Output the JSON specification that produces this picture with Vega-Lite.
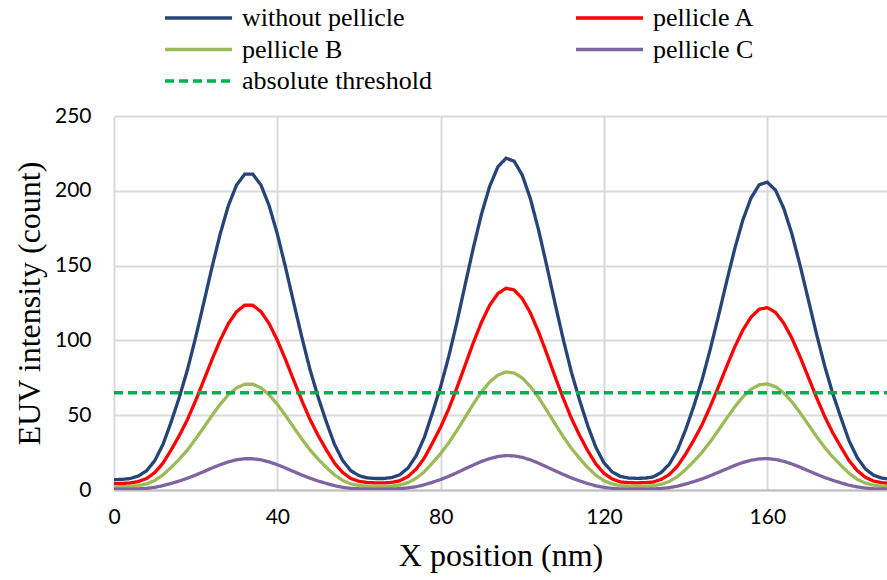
{
  "$schema": "https://vega.github.io/schema/vega-lite/v6.json",
  "width": 773,
  "height": 374,
  "autosize": "none",
  "padding": {"left": 114, "top": 116, "right": 0, "bottom": 90},
  "background": "white",
  "config": {
    "view": {"stroke": null}
  },
  "layer": [
    {
      "data": {
        "values": [
          {"x": 0, "without pellicle": 6.9, "pellicle A": 4.2, "pellicle B": 2.1, "pellicle C": 0.5},
          {"x": 2, "without pellicle": 7.1, "pellicle A": 4.4, "pellicle B": 2.2, "pellicle C": 0.6},
          {"x": 4, "without pellicle": 7.7, "pellicle A": 4.7, "pellicle B": 2.4, "pellicle C": 0.6},
          {"x": 6, "without pellicle": 9.4, "pellicle A": 5.7, "pellicle B": 3.0, "pellicle C": 0.8},
          {"x": 8, "without pellicle": 12.9, "pellicle A": 7.7, "pellicle B": 4.1, "pellicle C": 1.1},
          {"x": 10, "without pellicle": 19.7, "pellicle A": 11.7, "pellicle B": 6.4, "pellicle C": 1.8},
          {"x": 12, "without pellicle": 30.5, "pellicle A": 18.0, "pellicle B": 10.1, "pellicle C": 2.9},
          {"x": 14, "without pellicle": 45.5, "pellicle A": 26.8, "pellicle B": 15.1, "pellicle C": 4.4},
          {"x": 16, "without pellicle": 62.0, "pellicle A": 36.4, "pellicle B": 20.6, "pellicle C": 6.0},
          {"x": 18, "without pellicle": 80.5, "pellicle A": 47.2, "pellicle B": 26.8, "pellicle C": 7.9},
          {"x": 20, "without pellicle": 102.1, "pellicle A": 59.8, "pellicle B": 34.1, "pellicle C": 10.0},
          {"x": 22, "without pellicle": 125.3, "pellicle A": 73.4, "pellicle B": 41.9, "pellicle C": 12.3},
          {"x": 24, "without pellicle": 148.9, "pellicle A": 87.2, "pellicle B": 49.8, "pellicle C": 14.7},
          {"x": 26, "without pellicle": 171.1, "pellicle A": 100.1, "pellicle B": 57.3, "pellicle C": 16.9},
          {"x": 28, "without pellicle": 190.0, "pellicle A": 111.2, "pellicle B": 63.6, "pellicle C": 18.8},
          {"x": 30, "without pellicle": 203.8, "pellicle A": 119.2, "pellicle B": 68.2, "pellicle C": 20.2},
          {"x": 32, "without pellicle": 211.1, "pellicle A": 123.5, "pellicle B": 70.7, "pellicle C": 20.9},
          {"x": 34, "without pellicle": 211.1, "pellicle A": 123.5, "pellicle B": 70.7, "pellicle C": 20.9},
          {"x": 36, "without pellicle": 203.8, "pellicle A": 119.2, "pellicle B": 68.2, "pellicle C": 20.2},
          {"x": 38, "without pellicle": 190.0, "pellicle A": 111.2, "pellicle B": 63.6, "pellicle C": 18.8},
          {"x": 40, "without pellicle": 171.1, "pellicle A": 100.1, "pellicle B": 57.3, "pellicle C": 16.9},
          {"x": 42, "without pellicle": 148.9, "pellicle A": 87.2, "pellicle B": 49.8, "pellicle C": 14.7},
          {"x": 44, "without pellicle": 125.3, "pellicle A": 73.4, "pellicle B": 41.9, "pellicle C": 12.3},
          {"x": 46, "without pellicle": 102.1, "pellicle A": 59.8, "pellicle B": 34.1, "pellicle C": 10.0},
          {"x": 48, "without pellicle": 80.5, "pellicle A": 47.2, "pellicle B": 26.8, "pellicle C": 7.9},
          {"x": 50, "without pellicle": 62.0, "pellicle A": 36.4, "pellicle B": 20.6, "pellicle C": 6.0},
          {"x": 52, "without pellicle": 45.5, "pellicle A": 26.8, "pellicle B": 15.1, "pellicle C": 4.4},
          {"x": 54, "without pellicle": 30.5, "pellicle A": 18.0, "pellicle B": 10.1, "pellicle C": 2.9},
          {"x": 56, "without pellicle": 19.7, "pellicle A": 11.7, "pellicle B": 6.4, "pellicle C": 1.8},
          {"x": 58, "without pellicle": 12.9, "pellicle A": 7.7, "pellicle B": 4.1, "pellicle C": 1.1},
          {"x": 60, "without pellicle": 9.6, "pellicle A": 5.8, "pellicle B": 3.0, "pellicle C": 0.8},
          {"x": 62, "without pellicle": 8.1, "pellicle A": 5.0, "pellicle B": 2.6, "pellicle C": 0.7},
          {"x": 64, "without pellicle": 7.7, "pellicle A": 4.8, "pellicle B": 2.4, "pellicle C": 0.6},
          {"x": 66, "without pellicle": 7.7, "pellicle A": 4.7, "pellicle B": 2.4, "pellicle C": 0.6},
          {"x": 68, "without pellicle": 8.3, "pellicle A": 5.1, "pellicle B": 2.6, "pellicle C": 0.7},
          {"x": 70, "without pellicle": 10.2, "pellicle A": 6.2, "pellicle B": 3.3, "pellicle C": 0.9},
          {"x": 72, "without pellicle": 14.7, "pellicle A": 9.0, "pellicle B": 4.9, "pellicle C": 1.4},
          {"x": 74, "without pellicle": 22.9, "pellicle A": 14.0, "pellicle B": 7.9, "pellicle C": 2.2},
          {"x": 76, "without pellicle": 35.2, "pellicle A": 21.4, "pellicle B": 12.2, "pellicle C": 3.5},
          {"x": 78, "without pellicle": 51.8, "pellicle A": 31.5, "pellicle B": 18.2, "pellicle C": 5.2},
          {"x": 80, "without pellicle": 69.2, "pellicle A": 42.1, "pellicle B": 24.4, "pellicle C": 7.0},
          {"x": 82, "without pellicle": 89.5, "pellicle A": 54.4, "pellicle B": 31.6, "pellicle C": 9.2},
          {"x": 84, "without pellicle": 112.5, "pellicle A": 68.5, "pellicle B": 39.9, "pellicle C": 11.6},
          {"x": 86, "without pellicle": 137.3, "pellicle A": 83.5, "pellicle B": 48.7, "pellicle C": 14.2},
          {"x": 88, "without pellicle": 161.9, "pellicle A": 98.5, "pellicle B": 57.5, "pellicle C": 16.7},
          {"x": 90, "without pellicle": 184.5, "pellicle A": 112.2, "pellicle B": 65.6, "pellicle C": 19.1},
          {"x": 92, "without pellicle": 203.0, "pellicle A": 123.5, "pellicle B": 72.2, "pellicle C": 21.0},
          {"x": 94, "without pellicle": 216.0, "pellicle A": 131.3, "pellicle B": 76.8, "pellicle C": 22.4},
          {"x": 96, "without pellicle": 221.8, "pellicle A": 134.9, "pellicle B": 78.9, "pellicle C": 23.0},
          {"x": 98, "without pellicle": 219.8, "pellicle A": 133.7, "pellicle B": 78.2, "pellicle C": 22.8},
          {"x": 100, "without pellicle": 210.4, "pellicle A": 127.9, "pellicle B": 74.8, "pellicle C": 21.8},
          {"x": 102, "without pellicle": 194.4, "pellicle A": 118.2, "pellicle B": 69.1, "pellicle C": 20.1},
          {"x": 104, "without pellicle": 173.5, "pellicle A": 105.5, "pellicle B": 61.7, "pellicle C": 17.9},
          {"x": 106, "without pellicle": 149.6, "pellicle A": 91.0, "pellicle B": 53.1, "pellicle C": 15.4},
          {"x": 108, "without pellicle": 124.8, "pellicle A": 75.9, "pellicle B": 44.3, "pellicle C": 12.9},
          {"x": 110, "without pellicle": 100.9, "pellicle A": 61.4, "pellicle B": 35.7, "pellicle C": 10.4},
          {"x": 112, "without pellicle": 78.9, "pellicle A": 48.0, "pellicle B": 27.9, "pellicle C": 8.1},
          {"x": 114, "without pellicle": 60.2, "pellicle A": 36.6, "pellicle B": 21.2, "pellicle C": 6.1},
          {"x": 116, "without pellicle": 43.1, "pellicle A": 26.3, "pellicle B": 15.1, "pellicle C": 4.3},
          {"x": 118, "without pellicle": 28.5, "pellicle A": 17.4, "pellicle B": 9.9, "pellicle C": 2.8},
          {"x": 120, "without pellicle": 18.1, "pellicle A": 11.1, "pellicle B": 6.2, "pellicle C": 1.7},
          {"x": 122, "without pellicle": 12.1, "pellicle A": 7.4, "pellicle B": 4.0, "pellicle C": 1.1},
          {"x": 124, "without pellicle": 9.1, "pellicle A": 5.4, "pellicle B": 2.9, "pellicle C": 0.7},
          {"x": 126, "without pellicle": 8.0, "pellicle A": 4.9, "pellicle B": 2.5, "pellicle C": 0.6},
          {"x": 128, "without pellicle": 7.8, "pellicle A": 4.8, "pellicle B": 2.4, "pellicle C": 0.6},
          {"x": 130, "without pellicle": 7.9, "pellicle A": 4.9, "pellicle B": 2.5, "pellicle C": 0.6},
          {"x": 132, "without pellicle": 8.7, "pellicle A": 5.3, "pellicle B": 2.8, "pellicle C": 0.7},
          {"x": 134, "without pellicle": 11.7, "pellicle A": 7.1, "pellicle B": 3.8, "pellicle C": 1.0},
          {"x": 136, "without pellicle": 17.3, "pellicle A": 10.4, "pellicle B": 5.7, "pellicle C": 1.6},
          {"x": 138, "without pellicle": 26.8, "pellicle A": 16.0, "pellicle B": 9.0, "pellicle C": 2.6},
          {"x": 140, "without pellicle": 40.4, "pellicle A": 24.1, "pellicle B": 13.7, "pellicle C": 4.0},
          {"x": 142, "without pellicle": 56.2, "pellicle A": 33.4, "pellicle B": 19.2, "pellicle C": 5.6},
          {"x": 144, "without pellicle": 73.5, "pellicle A": 43.6, "pellicle B": 25.2, "pellicle C": 7.4},
          {"x": 146, "without pellicle": 93.9, "pellicle A": 55.7, "pellicle B": 32.2, "pellicle C": 9.5},
          {"x": 148, "without pellicle": 116.0, "pellicle A": 68.8, "pellicle B": 39.9, "pellicle C": 11.8},
          {"x": 150, "without pellicle": 139.0, "pellicle A": 82.4, "pellicle B": 47.8, "pellicle C": 14.1},
          {"x": 152, "without pellicle": 161.1, "pellicle A": 95.5, "pellicle B": 55.5, "pellicle C": 16.4},
          {"x": 154, "without pellicle": 180.5, "pellicle A": 106.9, "pellicle B": 62.2, "pellicle C": 18.4},
          {"x": 156, "without pellicle": 195.2, "pellicle A": 115.6, "pellicle B": 67.3, "pellicle C": 19.9},
          {"x": 158, "without pellicle": 204.0, "pellicle A": 120.8, "pellicle B": 70.3, "pellicle C": 20.8},
          {"x": 160, "without pellicle": 205.8, "pellicle A": 121.9, "pellicle B": 70.9, "pellicle C": 21.0},
          {"x": 162, "without pellicle": 200.4, "pellicle A": 118.7, "pellicle B": 69.1, "pellicle C": 20.4},
          {"x": 164, "without pellicle": 188.4, "pellicle A": 111.6, "pellicle B": 64.9, "pellicle C": 19.2},
          {"x": 166, "without pellicle": 171.3, "pellicle A": 101.5, "pellicle B": 59.0, "pellicle C": 17.4},
          {"x": 168, "without pellicle": 150.3, "pellicle A": 89.1, "pellicle B": 51.7, "pellicle C": 15.3},
          {"x": 170, "without pellicle": 127.6, "pellicle A": 75.6, "pellicle B": 43.9, "pellicle C": 12.9},
          {"x": 172, "without pellicle": 104.7, "pellicle A": 62.1, "pellicle B": 35.9, "pellicle C": 10.6},
          {"x": 174, "without pellicle": 83.3, "pellicle A": 49.4, "pellicle B": 28.6, "pellicle C": 8.4},
          {"x": 176, "without pellicle": 64.6, "pellicle A": 38.3, "pellicle B": 22.1, "pellicle C": 6.5},
          {"x": 178, "without pellicle": 48.4, "pellicle A": 28.8, "pellicle B": 16.5, "pellicle C": 4.8},
          {"x": 180, "without pellicle": 33.0, "pellicle A": 19.7, "pellicle B": 11.2, "pellicle C": 3.2},
          {"x": 182, "without pellicle": 21.7, "pellicle A": 13.0, "pellicle B": 7.2, "pellicle C": 2.1},
          {"x": 184, "without pellicle": 14.1, "pellicle A": 8.5, "pellicle B": 4.6, "pellicle C": 1.3},
          {"x": 186, "without pellicle": 9.9, "pellicle A": 6.0, "pellicle B": 3.2, "pellicle C": 0.8},
          {"x": 188, "without pellicle": 8.0, "pellicle A": 4.9, "pellicle B": 2.5, "pellicle C": 0.7},
          {"x": 190, "without pellicle": 7.2, "pellicle A": 4.4, "pellicle B": 2.2, "pellicle C": 0.6}
        ]
      },
      "transform": [
        {"fold": ["without pellicle", "pellicle A", "pellicle B", "pellicle C"], "as": ["series", "value"]}
      ],
      "mark": {"type": "line", "strokeWidth": 3.3, "clip": true},
      "encoding": {
        "x": {
          "field": "x", "type": "quantitative",
          "scale": {"domain": [0, 189.3], "nice": false, "zero": false},
          "axis": {
            "values": [0, 40, 80, 120, 160],
            "grid": true, "gridColor": "#D9D9D9", "gridWidth": 2,
            "ticks": false,
            "domain": true, "domainColor": "#BFBFBF", "domainWidth": 2,
            "labelFont": "Lato", "labelFontSize": 21, "labelColor": "#000000",
            "labelPadding": 16, "labelFlush": false,
            "title": "X position (nm)",
            "titleFont": "Liberation Serif", "titleFontSize": 32, "titleFontWeight": "normal",
            "titleColor": "#000000", "titlePadding": 13
          }
        },
        "y": {
          "field": "value", "type": "quantitative",
          "scale": {"domain": [0, 250], "nice": false},
          "axis": {
            "values": [0, 50, 100, 150, 200, 250],
            "grid": true, "gridColor": "#D9D9D9", "gridWidth": 2,
            "ticks": false, "domain": false,
            "labelFont": "Lato", "labelFontSize": 21, "labelColor": "#000000",
            "labelPadding": 23,
            "title": "EUV intensity (count)",
            "titleFont": "Liberation Serif", "titleFontSize": 32, "titleFontWeight": "normal",
            "titleColor": "#000000", "titlePadding": 8
          }
        },
        "color": {
          "field": "series", "type": "nominal",
          "scale": {
            "domain": ["without pellicle", "pellicle A", "pellicle B", "pellicle C", "absolute threshold"],
            "range": ["#264478", "#FF0000", "#9BBB59", "#8064A2", "#00B050"]
          },
          "legend": {
            "title": null, "orient": "none", "legendX": 49, "legendY": -115,
            "direction": "horizontal", "columns": 2, "columnPadding": 137, "rowPadding": 1.5,
            "symbolType": "M-1,0H3.47", "symbolSize": 900, "symbolStrokeWidth": 3.3,
            "labelFont": "Liberation Serif", "labelFontSize": 26, "labelColor": "#000000",
            "labelOffset": 45, "labelLimit": 400
          }
        },
        "strokeDash": {
          "field": "series", "type": "nominal",
          "scale": {
            "domain": ["without pellicle", "pellicle A", "pellicle B", "pellicle C", "absolute threshold"],
            "range": [[1, 0], [1, 0], [1, 0], [1, 0], [9, 5]]
          },
          "legend": {
            "title": null, "orient": "none", "legendX": 49, "legendY": -115,
            "direction": "horizontal", "columns": 2, "columnPadding": 137, "rowPadding": 1.5,
            "symbolType": "M-1,0H3.47", "symbolSize": 900, "symbolStrokeWidth": 3.3,
            "labelFont": "Liberation Serif", "labelFontSize": 26, "labelColor": "#000000",
            "labelOffset": 45, "labelLimit": 400
          }
        }
      }
    },
    {
      "data": {
        "values": [
          {"x": 0, "series": "absolute threshold", "value": 65},
          {"x": 189.3, "series": "absolute threshold", "value": 65}
        ]
      },
      "mark": {"type": "line", "strokeWidth": 3.3, "clip": true},
      "encoding": {
        "x": {"field": "x", "type": "quantitative"},
        "y": {"field": "value", "type": "quantitative"},
        "color": {"field": "series", "type": "nominal"},
        "strokeDash": {"field": "series", "type": "nominal"}
      }
    }
  ]
}
